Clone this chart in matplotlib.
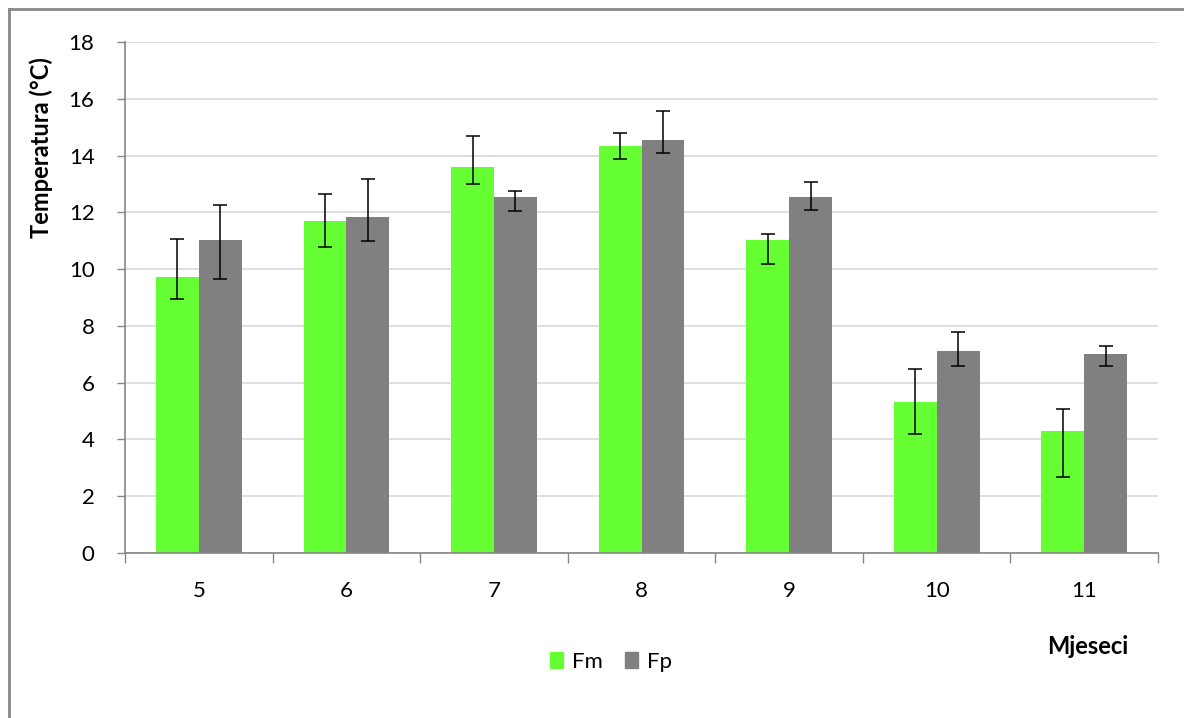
import matplotlib
matplotlib.use("Agg")
import matplotlib.pyplot as plt
import numpy as np
from matplotlib.patches import Patch

plt.rcParams['font.family'] = ['Lato', 'DejaVu Sans']

months = ["5", "6", "7", "8", "9", "10", "11"]
fm = [9.72, 11.69, 13.60, 14.34, 11.02, 5.32, 4.30]
fm_err_hi = [11.06, 12.65, 14.69, 14.79, 11.24, 6.48, 5.07]
fm_err_lo = [8.95, 10.78, 13.00, 13.88, 10.18, 4.19, 2.68]
fp = [11.02, 11.83, 12.54, 14.56, 12.54, 7.12, 7.01]
fp_err_hi = [12.26, 13.17, 12.75, 15.57, 13.07, 7.78, 7.29]
fp_err_lo = [9.65, 10.99, 12.05, 14.09, 12.08, 6.59, 6.59]
yticks = [0, 2, 4, 6, 8, 10, 12, 14, 16, 18]

green = "#66ff33"
grey = "#808080"
axis_col = "#868686"

fig = plt.figure(figsize=(11.84, 7.18), dpi=100)
ax = fig.add_axes([0.1056, 0.2298, 0.8725, 0.7117])

x = np.arange(len(months))
w = 0.29
fm_arr = np.array(fm)
fp_arr = np.array(fp)
fm_yerr = [fm_arr - np.array(fm_err_lo), np.array(fm_err_hi) - fm_arr]
fp_yerr = [fp_arr - np.array(fp_err_lo), np.array(fp_err_hi) - fp_arr]

ax.bar(x - w / 2, fm, w, color=green, zorder=2)
ax.bar(x + w / 2, fp, w, color=grey, zorder=2)
ekw = dict(fmt="none", ecolor="black", elinewidth=1.1, capsize=5, capthick=1.1, zorder=3)
ax.errorbar(x - w / 2, fm, yerr=fm_yerr, **ekw)
ax.errorbar(x + w / 2, fp, yerr=fp_yerr, **ekw)

ax.set_xlim(-0.5, len(months) - 0.5)
ax.set_ylim(0, 18)
ax.set_yticks(yticks)
ax.set_yticklabels([str(t) for t in yticks], fontsize=16)
ax.yaxis.grid(True, color="#d9d9d9", linewidth=1.2, zorder=0)
ax.set_axisbelow(True)

ax.set_xticks(x)
ax.set_xticklabels(months, fontsize=16)
ax.set_xticks(np.arange(len(months) + 1) - 0.5, minor=True)
ax.tick_params(axis="x", which="major", length=0, pad=20)
ax.tick_params(axis="x", which="minor", length=7, color=axis_col, width=1)
ax.tick_params(axis="y", length=6, color=axis_col, width=1, pad=16)

for s in ["top", "right"]:
    ax.spines[s].set_visible(False)
for s in ["left", "bottom"]:
    ax.spines[s].set_color(axis_col)
    ax.spines[s].set_linewidth(1.2)

fig.text(41 / 1184, 1 - 148 / 718, "Temperatura (°C)", rotation=90, fontsize=17,
         fontweight="bold", ha="center", va="center")
fig.text(1088 / 1184, 1 - 647 / 718, "Mjeseci", fontsize=17, fontweight="bold",
         ha="center", va="center")

handles = [Patch(color=green, label="Fm"), Patch(color=grey, label="Fp")]
fig.legend(handles=handles, loc="center", bbox_to_anchor=(611 / 1184, 1 - 662 / 718),
           ncol=2, frameon=False, fontsize=16, handlelength=0.6, handleheight=0.75,
           handletextpad=0.4, columnspacing=1.0)

# outer chart border (top and left)
fig.add_artist(plt.Line2D([9 / 1184, 9 / 1184], [0, 1 - 9 / 718], transform=fig.transFigure,
                          color="#888888", linewidth=2))
fig.add_artist(plt.Line2D([9 / 1184, 1], [1 - 9 / 718, 1 - 9 / 718], transform=fig.transFigure,
                          color="#888888", linewidth=2))

fig.savefig("out.png", dpi=100)
